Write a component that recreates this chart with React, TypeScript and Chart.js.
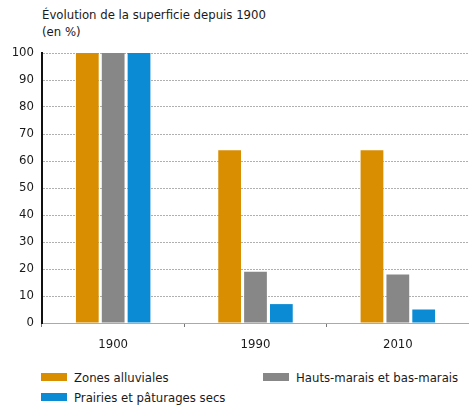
import React, { useEffect, useRef } from "react";
import { Chart, registerables } from "chart.js";

Chart.register(...registerables);

const categories = ["1900", "1990", "2010"];
const seriesNames = ["Zones alluviales", "Hauts-marais et bas-marais", "Prairies et pâturages secs"];
const zonesAlluviales = [100, 64, 64];
const hautsMarais = [100, 19, 18];
const prairiesSecs = [100, 7, 5];
const seriesColors = ["#D88E00", "#878787", "#0A8BD3"];
const titleLines = ["Évolution de la superficie depuis 1900", "(en %)"];

const FONT = "'DejaVu Sans Condensed', 'Liberation Sans Narrow', sans-serif";

export default function App() {
  const ref = useRef<HTMLCanvasElement>(null);
  useEffect(() => {
    const ctx = ref.current!.getContext("2d")!;
    const values = [zonesAlluviales, hautsMarais, prairiesSecs];
    const chart = new Chart(ctx, {
      type: "bar",
      data: {
        labels: categories,
        datasets: seriesNames.map((name, i) => ({
          label: name,
          data: values[i],
          backgroundColor: seriesColors[i],
          borderWidth: 0,
          categoryPercentage: 0.545,
          barPercentage: 0.88,
        })),
      },
      options: {
        animation: false,
        responsive: false,
        maintainAspectRatio: false,
        layout: { padding: { top: 53, left: 0, right: 0, bottom: 0 } },
        plugins: { legend: { display: false }, tooltip: { enabled: false }, title: { display: false } },
        scales: {
          x: {
            grid: { drawOnChartArea: false, drawTicks: true, tickLength: 4, color: "#777" },
            border: { color: "#aaaaaa", width: 1 },
            ticks: { color: "#1a1a1a", font: { family: FONT, size: 13 }, padding: 10 },
            afterFit: (s: any) => { s.height = 37; },
          },
          y: {
            min: 0,
            max: 100,
            ticks: { stepSize: 10, color: "#1a1a1a", font: { family: FONT, size: 13 }, padding: 8 },
            grid: { drawTicks: false, color: "#b0b0b0", lineWidth: 1 },
            border: { color: "#111", width: 2, dash: [2, 1] },
            afterFit: (s: any) => { s.width = 42; },
          },
        },
      },
    } as any);
    return () => chart.destroy();
  }, []);

  return (
    <div style={{ position: "absolute", left: 0, top: 0, width: 469, height: 414, background: "#fff", fontFamily: FONT, color: "#1a1a1a" }}>
      <div style={{ position: "absolute", left: 42, top: 6, fontSize: 13, lineHeight: "17px" }}>
        {titleLines.map((t) => (<div key={t}>{t}</div>))}
      </div>
      <canvas ref={ref} width={469} height={360} style={{ position: "absolute", left: 0, top: 0 }} />
      {seriesNames.map((name, i) => {
        const col = i % 2;
        const row = Math.floor(i / 2);
        return (
          <div key={name} style={{ position: "absolute", left: col === 0 ? 41 : 263, top: 368 + row * 20, display: "flex", alignItems: "center", fontSize: 13, height: 18 }}>
            <span style={{ display: "inline-block", width: 26, height: 8, background: seriesColors[i], marginRight: 7 }} />
            <span>{name}</span>
          </div>
        );
      })}
    </div>
  );
}
